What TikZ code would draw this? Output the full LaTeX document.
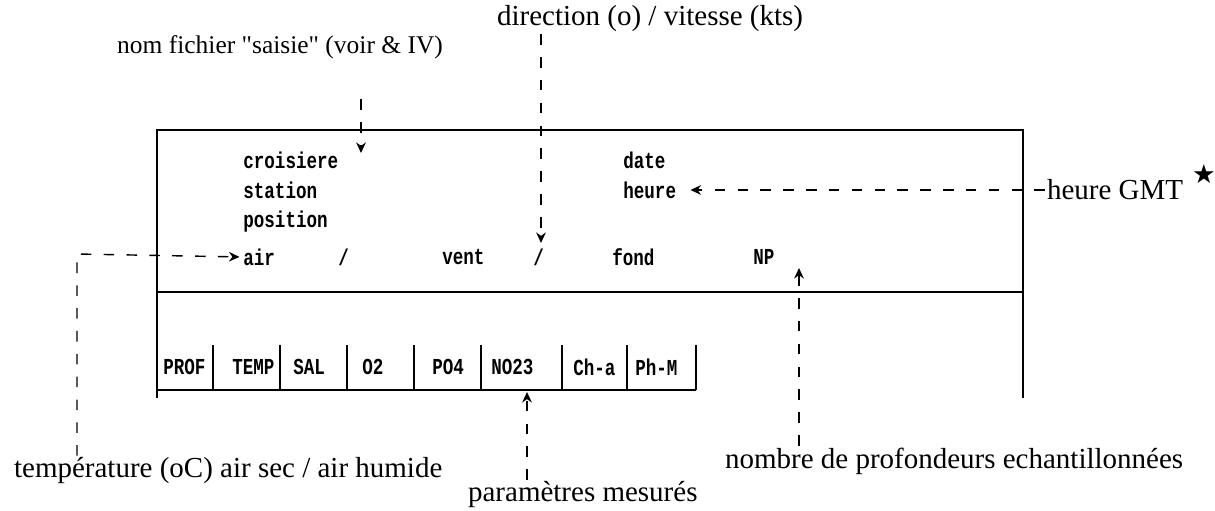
\documentclass[tikz,border=0pt]{standalone}
\usepackage{fontspec}
\setmainfont{Liberation Serif}
\newfontfamily\dotfont{Liberation Mono}
\newfontfamily\symfont{DejaVu Sans}
\usetikzlibrary{arrows.meta,positioning,calc}
\newcommand{\dm}[1]{\scalebox{1}[1.3]{#1}}
\tikzset{
  lbl/.style={font=\fontsize{16.5}{18}\selectfont, inner sep=1pt},
  lblsmall/.style={font=\fontsize{14.5}{16}\selectfont, inner sep=1pt},
  dtext/.style={font=\dotfont\bfseries\fontsize{10}{12}\selectfont, anchor=west, inner sep=0pt},
  cell/.style={font=\dotfont\bfseries\fontsize{10}{12}\selectfont, anchor=west, inner sep=0pt},
  frame/.style={draw, semithick},
  darrow/.style={-{Stealth[length=6pt,width=5.5pt]}, thick, dash pattern=on 6pt off 7pt}
}

\begin{document}
\begin{tikzpicture}[x=0.02cm,y=-0.02cm]
\useasboundingbox (0,0) rectangle (1215,511);

% record frame
\coordinate (tl) at (157,130);
\coordinate (tr) at (1023,130);
\coordinate (ml) at (157,292);
\coordinate (mr) at (1023,292);
\coordinate (bl) at (157,398);
\coordinate (br) at (1023,398);
\draw[frame] (bl) -- (tl) -- (tr) -- (br);
\draw[frame] (ml) -- (mr);

% header fields
\node[dtext] (croisiere) at (243,160) {\dm{croisiere}};
\node[dtext] (station) at (243,190) {\dm{station}};
\node[dtext] (position) at (243,222) {\dm{position}};
\node[dtext] (air) at (243,257) {\dm{air}};
\node[dtext] (sepa) at (338,257) {\dm{/}};
\node[dtext] (vent) at (442,257) {\dm{vent}};
\node[dtext] (sepb) at (533,257) {\dm{/}};
\node[dtext] (fond) at (612,257) {\dm{fond}};
\node[dtext] (np) at (753,257) {\dm{NP}};
\node[dtext] (date) at (623,160) {\dm{date}};
\node[dtext] (heure) at (623,190) {\dm{heure}};

% parameter table
\draw[frame] (157,390) -- (696,390);
\foreach \x in {213,280,347,414,481,562,627,696}
  \draw[frame] (\x,345) -- (\x,390);
\node[cell] (prof) at (163,367) {\dm{PROF}};
\node[cell] (temp) at (232,367) {\dm{TEMP}};
\node[cell] (sal) at (293,367) {\dm{SAL}};
\node[cell] (oxy) at (362,367) {\dm{O2}};
\node[cell] (pho) at (432,367) {\dm{PO4}};
\node[cell] (nit) at (491,367) {\dm{NO23}};
\node[cell] (chla) at (573,367) {\dm{Ch-a}};
\node[cell] (phm) at (635,367) {\dm{Ph-M}};

% labels
\node[lbl, anchor=west] (dirlbl) at (495,19) {direction (o) / vitesse (kts)};
\node[lblsmall, anchor=east] (nomlbl) at (445,47) {nom fichier \textquotedbl saisie\textquotedbl{} (voir \& IV)};
\node[lbl, anchor=west] (gmtlbl) at (1045,190) {heure GMT};
\node[font=\symfont\bfseries\fontsize{15}{17}\selectfont, inner sep=0pt] (star) at (1204,174) {★};
\node[lbl, anchor=west] (templbl) at (12,471) {température (oC) air sec / air humide};
\node[lbl, anchor=west] (nplbl) at (723,461) {nombre de profondeurs echantillonnées};
\node[lbl, anchor=west] (parlbl) at (466,495) {paramètres mesurés};

% pointers
\coordinate (dirtip) at (541,243);
\coordinate (nomtip) at (361,153);
\coordinate (tempcorner) at (77,254);
\coordinate (nptip) at (799,268);
\coordinate (partip) at (527,392);
\draw[darrow] (dirlbl.south -| dirtip) -- (dirtip);
\draw[darrow, shorten <=22pt] (nomlbl.south -| nomtip) -- (nomtip);
\draw[darrow, shorten >=8pt] (gmtlbl.west) -- (heure.east);
\draw[darrow, shorten >=2pt] (templbl.north -| tempcorner) -- (tempcorner) -- (air.west);
\draw[darrow] (nplbl.north -| nptip) -- (nptip);
\draw[darrow] (parlbl.north -| partip) -- (partip);
\end{tikzpicture}
\end{document}
